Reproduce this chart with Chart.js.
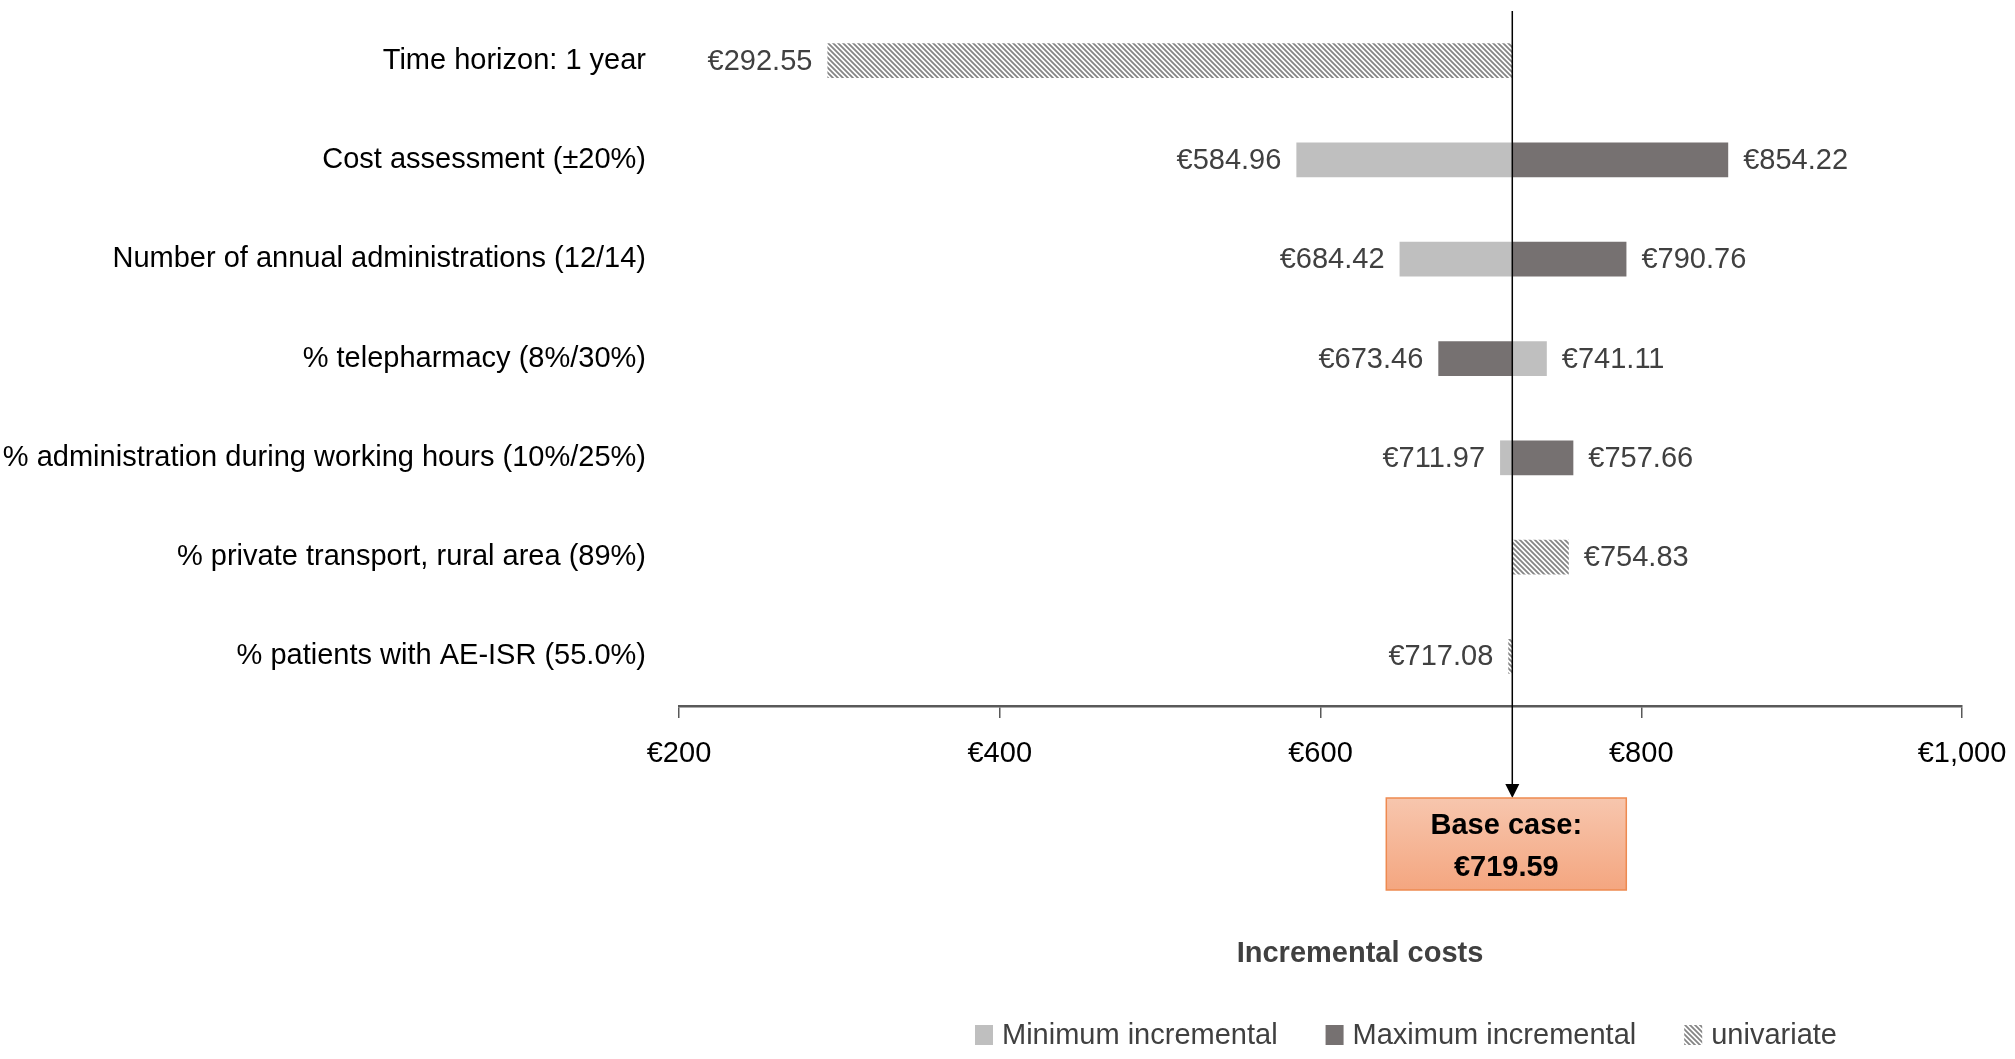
<!DOCTYPE html>
<html>
<head>
<meta charset="utf-8">
<title>Tornado diagram - incremental costs</title>
<script src="https://cdn.jsdelivr.net/npm/chart.js@4.4.0/dist/chart.umd.min.js"></script>
<style>
  html, body { margin: 0; padding: 0; background: #fff; }
  #wrap { position: relative; width: 2015px; height: 1059px; }
</style>
</head>
<body>
<div id="wrap"><canvas id="tornado"></canvas></div>
<script>
const categories = [
  "Time horizon: 1 year",
  "Cost assessment (±20%)",
  "Number of annual administrations (12/14)",
  "% telepharmacy (8%/30%)",
  "% administration during working hours (10%/25%)",
  "% private transport, rural area (89%)",
  "% patients with AE-ISR (55.0%)"
];
const baseCase = 719.59;
const minIncremental = [null, 584.96, 649.3, 741.11, 711.97, null, null];
const maxIncremental = [null, 854.22, 790.76, 673.46, 757.66, null, null];
const univariate = [292.55, null, null, null, null, 754.83, 717.08];
// printed values (the 12/14 light bar is drawn shorter than its label says)
const minLabels = [null, 584.96, 684.42, 741.11, 711.97, null, null];
const maxLabels = [null, 854.22, 790.76, 673.46, 757.66, null, null];
const uniLabels = [292.55, null, null, null, null, 754.83, 717.08];
const xTicks = [200, 400, 600, 800, 1000];

const FONT = '"Liberation Sans", Arial, Helvetica, sans-serif';
Chart.defaults.font.family = FONT;
Chart.defaults.font.size = 29;

function hatch(color) {
  const c = document.createElement('canvas');
  c.width = 5; c.height = 5;
  const g = c.getContext('2d');
  g.fillStyle = '#fff';
  g.fillRect(0, 0, 5, 5);
  g.strokeStyle = color;
  g.lineWidth = 1.8;
  g.beginPath();
  g.moveTo(-1, -1); g.lineTo(6, 6);
  g.moveTo(-1, 4); g.lineTo(1, 6);
  g.moveTo(4, -1); g.lineTo(6, 1);
  g.stroke();
  return g.createPattern(c, 'repeat');
}

function floating(arr) {
  return arr.map(v => v == null ? null : [baseCase, v]);
}

function euro(v) {
  return '€' + v.toFixed(2);
}

const extras = {
  id: 'extras',
  afterDatasetsDraw(chart) {
    const ctx = chart.ctx;
    const x = chart.scales.x, y = chart.scales.y;
    const sets = [minLabels, maxLabels, uniLabels];
    ctx.save();
    ctx.font = '29px ' + FONT;
    ctx.fillStyle = '#404040';
    ctx.textBaseline = 'middle';
    chart.data.datasets.forEach((ds, d) => {
      ds.data.forEach((pair, i) => {
        if (!pair) return;
        let px = x.getPixelForValue(pair[1]);
        let py = y.getPixelForValue(i);
        let txt = euro(sets[d][i]);
        if (pair[1] < baseCase) {
          ctx.textAlign = 'right';
          ctx.fillText(txt, px - 15, py + 1);
        } else {
          ctx.textAlign = 'left';
          ctx.fillText(txt, px + 15, py + 1);
        }
      });
    });
    ctx.restore();
  },
  afterDraw(chart) {
    const ctx = chart.ctx;
    const area = chart.chartArea;
    const x = chart.scales.x;
    const bx = x.getPixelForValue(baseCase);
    const boxTop = area.bottom + 92;

    ctx.save();
    // base case line + arrow
    ctx.strokeStyle = '#000';
    ctx.lineWidth = 1.5;
    ctx.beginPath();
    ctx.moveTo(bx, area.top);
    ctx.lineTo(bx, boxTop - 12);
    ctx.stroke();
    ctx.fillStyle = '#000';
    ctx.beginPath();
    ctx.moveTo(bx - 7, boxTop - 14);
    ctx.lineTo(bx + 7, boxTop - 14);
    ctx.lineTo(bx, boxTop);
    ctx.closePath();
    ctx.fill();

    // base case box
    const left = bx - 126, w = 240, h = 92;
    let grad = ctx.createLinearGradient(0, boxTop, 0, boxTop + h);
    grad.addColorStop(0, '#F7C6AE');
    grad.addColorStop(1, '#F4A680');
    ctx.fillStyle = grad;
    ctx.fillRect(left, boxTop, w, h);
    ctx.strokeStyle = '#EE8A50';
    ctx.lineWidth = 1.5;
    ctx.strokeRect(left, boxTop, w, h);
    ctx.fillStyle = '#000';
    ctx.font = 'bold 29px ' + FONT;
    ctx.textAlign = 'center';
    ctx.textBaseline = 'middle';
    ctx.fillText('Base case:', left + w / 2, boxTop + 28);
    ctx.fillText(euro(baseCase), left + w / 2, boxTop + 70);

    // axis title
    ctx.fillStyle = '#404040';
    ctx.fillText('Incremental costs', area.left + 681, area.bottom + 248);

    // legend
    ctx.font = '29px ' + FONT;
    ctx.textAlign = 'left';
    let lx = area.left + 296;
    const ly = area.bottom + 329;
    chart.data.datasets.forEach(ds => {
      ctx.fillStyle = ds.backgroundColor;
      ctx.fillRect(lx, ly - 10, 18, 20);
      ctx.fillStyle = '#404040';
      ctx.fillText(ds.label, lx + 27, ly + 1);
      lx += 27 + ctx.measureText(ds.label).width + 48;
    });
    ctx.restore();
  }
};

const ctx = document.getElementById('tornado');
const chart = new Chart(ctx, {
  type: 'bar',
  data: {
    labels: categories,
    datasets: [{
      label: 'Minimum incremental',
      data: floating(minIncremental),
      backgroundColor: '#BFBFBF'
    }, {
      label: 'Maximum incremental',
      data: floating(maxIncremental),
      backgroundColor: '#767171'
    }, {
      label: 'univariate',
      data: floating(univariate),
      backgroundColor: hatch('#858585')
    }]
  },
  options: {
    indexAxis: 'y',
    responsive: true,
    maintainAspectRatio: false,
    animation: false,
    datasets: {
      bar: {
        grouped: false,
        borderWidth: 0,
        barPercentage: 0.35,
        categoryPercentage: 1
      }
    },
    layout: {
      padding: { top: 11, right: 53, bottom: 0, left: 0 }
    },
    plugins: {
      legend: { display: false },
      tooltip: { enabled: false }
    },
    scales: {
      x: {
        type: 'linear',
        min: 200,
        max: 1000,
        afterBuildTicks: scale => {
          scale.ticks = xTicks.map(v => ({ value: v }));
        },
        afterFit: scale => {
          scale.height = 353;
          scale.paddingLeft = 0;
          scale.paddingRight = 0;
        },
        grid: {
          drawOnChartArea: false,
          drawTicks: true,
          tickLength: 12,
          color: '#595959',
          lineWidth: 1.5
        },
        border: { display: true, color: '#595959', width: 2.5 },
        ticks: {
          color: '#000',
          padding: 19,
          maxRotation: 0,
          callback: v => '€' + v.toLocaleString('en-US')
        }
      },
      y: {
        afterFit: scale => {
          scale.width = 679;
          scale.paddingTop = 0;
          scale.paddingBottom = 0;
        },
        grid: { display: false, drawTicks: false },
        border: { display: false },
        ticks: {
          color: '#000',
          padding: 33
        }
      }
    }
  },
  plugins: [extras]
});
</script>
</body>
</html>
